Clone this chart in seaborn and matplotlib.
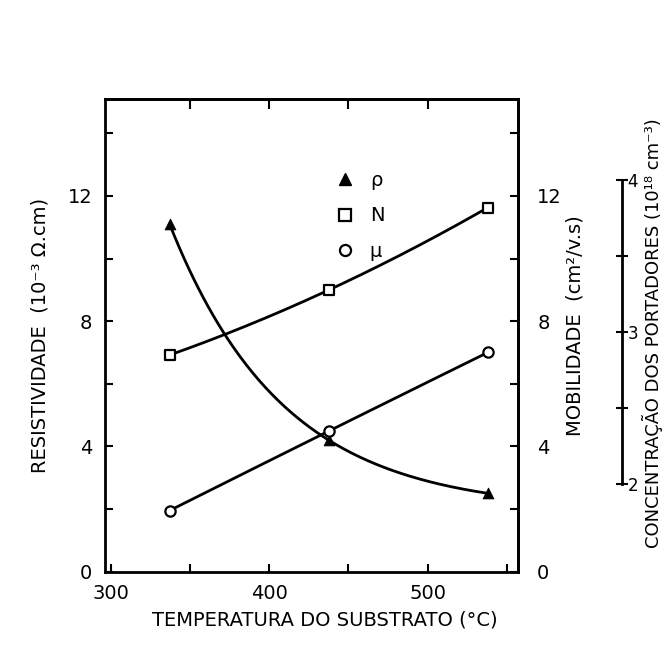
import numpy as np
import pandas as pd
import matplotlib
matplotlib.use("Agg")
import matplotlib.pyplot as plt
import seaborn as sns
from matplotlib.lines import Line2D
from matplotlib.ticker import FixedLocator

# ---- data ----
temperatura = [337, 438, 538]          # °C
resistividade = [11.1, 4.2, 2.5]       # 10^-3 ohm.cm
concentracao = [2.85, 3.28, 3.82]      # 10^18 cm^-3
mobilidade = [1.95, 4.5, 7.0]          # cm^2/V.s

x_major = [300, 400, 500]
x_minor = [350, 450, 550]
x_top = [350, 400, 450, 500]
y_major = [0, 4, 8, 12]
y_minor = [2, 6, 10, 14]
conc_major = [2, 3, 4]
conc_minor = [2.5, 3.5]

sns.set_style("ticks")
plt.rcParams["font.family"] = ["DejaVu Sans"]
plt.rcParams["text.color"] = "black"
plt.rcParams["axes.labelcolor"] = "black"
plt.rcParams["xtick.color"] = "black"
plt.rcParams["ytick.color"] = "black"
plt.rcParams["axes.edgecolor"] = "black"

df = pd.DataFrame({"T": temperatura, "rho": resistividade,
                   "N": concentracao, "mu": mobilidade})

# smooth hand-drawn curves through the measured points
xs = np.linspace(temperatura[0], temperatura[-1], 200)
r = (resistividade[1] - resistividade[2]) / (resistividade[0] - resistividade[1])
h = (temperatura[2] - temperatura[0]) / 2
k = -np.log(r) / h
e = lambda x: np.exp(-k * (np.asarray(x) - temperatura[0]))
rho_fit = resistividade[2] + (resistividade[0] - resistividade[2]) * (e(xs) - e(temperatura[2])) / (1 - e(temperatura[2]))
conc_fit = np.polyval(np.polyfit(temperatura, concentracao, 2), xs)
mob_fit = np.polyval(np.polyfit(temperatura, mobilidade, 2), xs)
fits = pd.DataFrame({"T": xs, "rho": rho_fit, "N": conc_fit, "mu": mob_fit})

fig = plt.figure(figsize=(6.63, 6.51), dpi=100)
ax = fig.add_axes([0.158, 0.122, 0.623, 0.726])
ax2 = ax.twinx()
ax3 = ax.twinx()

lw = 2.0
sns.lineplot(data=fits, x="T", y="rho", ax=ax, color="black", lw=lw)
sns.lineplot(data=fits, x="T", y="mu", ax=ax2, color="black", lw=lw)
sns.lineplot(data=fits, x="T", y="N", ax=ax3, color="black", lw=lw)

sns.scatterplot(data=df, x="T", y="rho", ax=ax, marker="^", s=60,
                color="black", edgecolor="black", zorder=5)
sns.scatterplot(data=df, x="T", y="mu", ax=ax2, marker="o", s=55,
                facecolor="white", edgecolor="black", linewidth=1.6, zorder=5)
sns.scatterplot(data=df, x="T", y="N", ax=ax3, marker="s", s=55,
                facecolor="white", edgecolor="black", linewidth=1.6, zorder=5)

# limits
ax.set_xlim(296, 557)
ax.set_ylim(0, 15.1)
ax2.set_ylim(0, 15.1)
ax3.set_ylim(1.425, 4.535)

tick_fs = 14
# main axis
ax.xaxis.set_major_locator(FixedLocator(x_major))
ax.xaxis.set_minor_locator(FixedLocator(x_minor))
ax.yaxis.set_major_locator(FixedLocator(y_major))
ax.yaxis.set_minor_locator(FixedLocator(y_minor))
ax.tick_params(axis="both", which="both", direction="in", length=6, width=1.5,
               labelsize=tick_fs, colors="black")
ax.tick_params(axis="y", right=False, pad=9)
ax.tick_params(axis="x", top=False, pad=9)
for s in ax.spines.values():
    s.set_linewidth(2)
    s.set_color("black")

top = ax.secondary_xaxis("top")
top.xaxis.set_major_locator(FixedLocator(x_top))
top.tick_params(direction="in", length=7, width=1.5, labeltop=False, colors="black")
top.spines["top"].set_linewidth(2)
top.spines["top"].set_color("black")

# mobility axis
ax2.yaxis.set_major_locator(FixedLocator(y_major))
ax2.yaxis.set_minor_locator(FixedLocator(y_minor))
ax2.tick_params(axis="y", which="both", direction="in", length=6, width=1.5,
                labelsize=tick_fs, pad=14, colors="black")
for side in ["top", "bottom", "left"]:
    ax2.spines[side].set_visible(False)
ax2.spines["right"].set_linewidth(2)
ax2.spines["right"].set_color("black")

# concentration axis
for side in ["top", "bottom", "left"]:
    ax3.spines[side].set_visible(False)
ax3.spines["right"].set_position(("axes", 1.252))
ax3.spines["right"].set_bounds(2, 4)
ax3.spines["right"].set_linewidth(2)
ax3.spines["right"].set_color("black")
ax3.yaxis.set_major_locator(FixedLocator(conc_major))
ax3.yaxis.set_minor_locator(FixedLocator(conc_minor))
ax3.tick_params(axis="y", which="both", direction="inout", length=8, width=1.5,
                labelsize=12, pad=0, colors="black")

# labels
lab_fs = 14
ax.set_xlabel("TEMPERATURA DO SUBSTRATO (°C)", fontsize=lab_fs, color="black")
ax.xaxis.set_label_coords(0.533, -0.103)
ax.xaxis.label.set_va("center")

ax.set_ylabel("RESISTIVIDADE  (10⁻³ Ω.cm)", fontsize=lab_fs, color="black")
ax.yaxis.set_label_coords(-0.157, 0.50)
ax.yaxis.label.set_va("center")

ax2.set_ylabel("MOBILIDADE  (cm²/v.s)", fontsize=lab_fs, color="black")
ax2.yaxis.set_label_coords(1.138, 0.52)
ax2.yaxis.label.set_va("center")

ax3.set_ylabel("CONCENTRAÇÃO DOS PORTADORES (10¹⁸ cm⁻³)", fontsize=13, color="black")
ax3.yaxis.set_label_coords(1.325, 0.505)
ax3.yaxis.label.set_va("center")

# legend
handles = [
    Line2D([], [], ls="none", marker="^", ms=8, color="black"),
    Line2D([], [], ls="none", marker="s", ms=8, mfc="white", mec="black", mew=1.6),
    Line2D([], [], ls="none", marker="o", ms=8, mfc="white", mec="black", mew=1.6),
]
leg = ax3.legend(handles, ["ρ", "N", "μ"], loc="upper left", bbox_to_anchor=(0.51, 0.885),
                 frameon=False, fontsize=14, handletextpad=0.7, labelspacing=0.85,
                 handlelength=1.2)
for t in leg.get_texts():
    t.set_color("black")

fig.savefig("out.png", dpi=100)
